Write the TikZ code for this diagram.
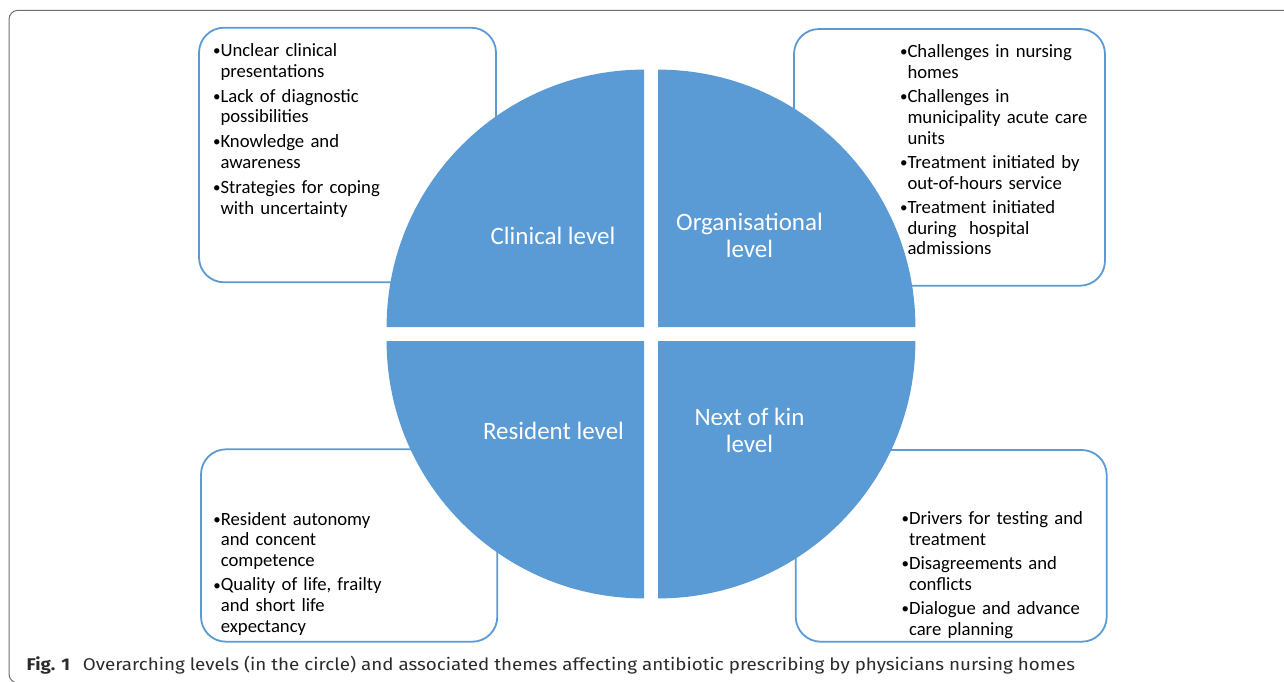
\documentclass[tikz,border=0pt]{standalone}
\usepackage{fontspec}
\usepackage{graphicx}
\setmainfont{Carlito}
\newfontfamily\capfont[FakeStretch=1.105]{Fira Sans}
\definecolor{qblue}{HTML}{5B9BD5}
\definecolor{framegray}{HTML}{6E6E6E}
\definecolor{captext}{HTML}{2B2B2B}
\newcommand\bitem{\par\hangindent=7.5pt\hangafter=1\noindent\makebox[7.5pt][l]{\raisebox{0.8pt}{\scalebox{0.8}{\textbullet}}}}
\tikzset{
  themebox/.style={draw=qblue, line width=1.8pt, fill=white, rounded corners=25pt,
    anchor=north west, inner sep=0pt, outer sep=0pt},
  themetext/.style={anchor=north west, inner sep=0pt, outer sep=0pt, text width=#1,
    font=\fontsize{18.7}{20.7}\selectfont, text=black},
  quad/.style={fill=qblue, draw=none},
  levellabel/.style={text=white, align=center, inner sep=0pt,
    font=\fontsize{25}{27.7}\selectfont},
}
\begin{document}
\begin{tikzpicture}[x=1pt,y=-1pt]
\useasboundingbox (0,0) rectangle (1284,681);
\clip (0,0) rectangle (1284,681);
% outer frame
\draw[framegray, line width=1pt, rounded corners=9pt] (9,10.3) rectangle (1300,683);
% theme boxes
\node[themebox, minimum width=297pt, minimum height=254.6pt] (b1) at (199,27.7) {};
\node[themebox, minimum width=311pt, minimum height=256.7pt] (b2) at (794,29) {};
\node[themebox, minimum width=296.3pt, minimum height=192.4pt] (b3) at (201,449.3) {};
\node[themebox, minimum width=311pt, minimum height=191.7pt] (b4) at (795.7,450) {};
% quadrants
\def\R{257.4}
\coordinate (cTL) at (644,327);
\coordinate (cTR) at (658,327);
\coordinate (cBL) at (644,341);
\coordinate (cBR) at (658,341);
\fill[quad] (cTL) -- ++(-\R,0) arc[start angle=180, end angle=270, radius=\R] -- cycle;
\fill[quad] (cTR) -- ++(0,-\R) arc[start angle=270, end angle=360, radius=\R] -- cycle;
\fill[quad] (cBL) -- ++(-\R,0) arc[start angle=180, end angle=90, radius=\R] -- cycle;
\fill[quad] (cBR) -- ++(\R,0) arc[start angle=0, end angle=90, radius=\R] -- cycle;
% level labels
\node[levellabel] (lc) at (553,236) {Clinical level};
\node[levellabel] (lo) at (749.5,235.5) {Organisational\\level};
\node[levellabel] (lr) at (553.5,431) {Resident level};
\node[levellabel] (ln) at (749.5,430.5) {Next of kin\\level};
% theme texts
\node[themetext=200pt] (t1) at (213,31.3) {\setlength\parskip{4.3pt}%
  \bitem\rule{0pt}{16pt}Unclear clinical\newline presentations
  \bitem Lack of diagnostic\newline possibilities
  \bitem Knowledge and\newline awareness
  \bitem Strategies for coping\newline with uncertainty\par};
\node[themetext=200pt] (t2) at (900,33.4) {\setlength\parskip{3.6pt}%
  \bitem\rule{0pt}{16pt}Challenges in nursing\newline homes
  \bitem Challenges in\newline municipality acute care\newline units
  \bitem Treatment initiated by\newline out-of-hours service
  \bitem Treatment initiated\newline during\ \ hospital\newline admissions\par};
\node[themetext=200pt] (t3) at (213.3,500.8) {\setlength\parskip{3.6pt}%
  \bitem\rule{0pt}{16pt}Resident autonomy\newline and concent\newline competence
  \bitem Quality of life, frailty\newline and short life\newline expectancy\par};
\node[themetext=200pt] (t4) at (901.5,500.4) {\setlength\parskip{3.6pt}%
  \bitem\rule{0pt}{16pt}Drivers for testing and\newline treatment
  \bitem Disagreements and\newline conflicts
  \bitem Dialogue and advance\newline care planning\par};
% caption
\node[anchor=base west, inner sep=0pt, text=captext,
  font=\capfont\fontsize{17}{18}\selectfont] (cap) at (26.5,670)
  {\textbf{Fig. 1}\hspace{0.75em}Overarching levels (in the circle) and associated themes affecting antibiotic prescribing by physicians nursing homes};
\end{tikzpicture}
\end{document}
